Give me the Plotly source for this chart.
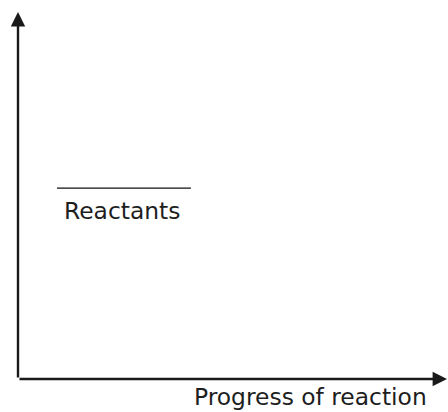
import plotly.graph_objects as go

# Energy diagram data (abstract units: progress 0..1, energy 0..1)
reactants_progress = [0.091, 0.403]
reactants_energy = [0.52, 0.52]
reactants_label = "Reactants"
x_axis_label = "Progress of reaction"
x_label_position = 0.4056
axis_origin = [0.0, 0.0]
axis_end = [1.0, 1.0]

W, H = 448, 412
ML, MR, MT, MB = 17.5, 1, 12, 32.5
FONT = "DejaVu Sans, Verdana, sans-serif"
TXT = "#1e1e1e"
AX = "#1a1a1a"

fig = go.Figure()

fig.add_trace(go.Scatter(
    x=reactants_progress, y=reactants_energy, mode="lines",
    line=dict(color="#111111", width=1.3), hoverinfo="skip", showlegend=False,
))

annotations = [
    # y axis arrow
    dict(x=axis_origin[0], y=axis_end[1], ax=axis_origin[0], ay=axis_origin[1],
         xref="x", yref="y", axref="x", ayref="y", showarrow=True, text="",
         arrowhead=2, arrowsize=1.2, arrowwidth=2.4, arrowcolor=AX),
    # x axis arrow
    dict(x=axis_end[0], y=axis_origin[1], ax=axis_origin[0], ay=axis_origin[1],
         xref="x", yref="y", axref="x", ayref="y", showarrow=True, text="",
         arrowhead=2, arrowsize=1.2, arrowwidth=2.4, arrowcolor=AX),
    dict(x=reactants_progress[0], y=reactants_energy[0], xref="x", yref="y",
         text=reactants_label, showarrow=False, xanchor="left", yanchor="top",
         xshift=5, yshift=-7, font=dict(family=FONT, size=23.4, color=TXT)),
    dict(x=x_label_position, y=axis_origin[1], xref="x", yref="y",
         text=x_axis_label, showarrow=False, xanchor="left", yanchor="top",
         yshift=-1.5, font=dict(family=FONT, size=23.4, color=TXT)),
]

fig.update_layout(
    width=W, height=H,
    margin=dict(l=ML, r=MR, t=MT, b=MB, pad=0),
    paper_bgcolor="white", plot_bgcolor="white",
    xaxis=dict(range=[0, 1], visible=False, fixedrange=True),
    yaxis=dict(range=[0, 1], visible=False, fixedrange=True),
    annotations=annotations,
    showlegend=False,
)

fig.write_html(
    "out.html",
    config={"displayModeBar": False},
    post_script="document.body.style.margin='0';document.body.style.overflow='hidden';",
)
